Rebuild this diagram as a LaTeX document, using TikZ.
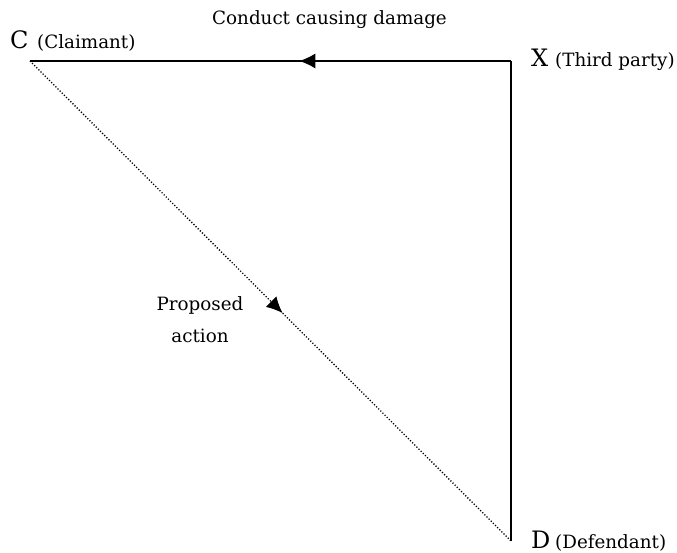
\documentclass[tikz,border=0pt]{standalone}
\usepackage{fontspec}
\setmainfont{DejaVu Serif}
\usetikzlibrary{arrows.meta,decorations.markings}
\tikzset{
  big/.style={font=\fontsize{24}{24}\selectfont, inner sep=0pt, anchor=base west},
  small/.style={font=\fontsize{18.3}{18.3}\selectfont, inner sep=0pt, anchor=base west},
  lbl/.style={font=\fontsize{18.3}{32}\selectfont, inner sep=0pt, align=center},
  solidline/.style={line width=1.3pt},
  dotline/.style={line width=1.3pt, dash pattern=on 1.2pt off 1.8pt},
  midarrow/.style={postaction={decorate, decoration={markings,
     mark=at position #1 with {\arrow[line width=1pt]{Latex[length=16pt,width=15pt]}}}}}
}
\begin{document}
\begin{tikzpicture}[x=1pt,y=-1pt]
\useasboundingbox (0,0) rectangle (677,553);
\coordinate (C) at (30,61);
\coordinate (X) at (511,61);
\coordinate (D) at (511,541);
\node[big] (Cl) at (10,49) {C};
\node[small] (Clt) at (37,49) {(Claimant)};
\node[big] (Xl) at (531,67) {X};
\node[small] (Xlt) at (555,67) {(Third party)};
\node[big] (Dl) at (531,548) {D};
\node[small] (Dlt) at (555,548) {(Defendant)};
\node[small] (cond) at (212,25) {Conduct causing damage};
\node[lbl] (prop) at (200,320) {Proposed\\action};
\draw[solidline, midarrow=0.44] (X) -- (C);
\draw[solidline] (X) -- (D);
\draw[dotline, midarrow=0.525] (C) -- (D);
\end{tikzpicture}
\end{document}
